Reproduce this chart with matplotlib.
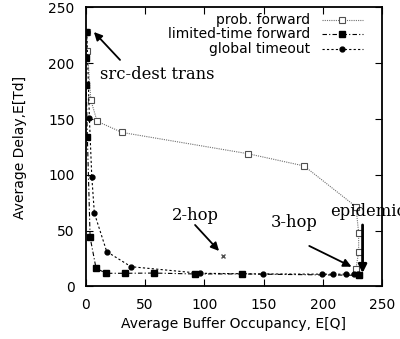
import matplotlib
matplotlib.use('Agg')
import matplotlib.pyplot as plt
from matplotlib.lines import Line2D

plt.rcParams['font.family'] = ['DejaVu Sans']

# prob. forward
pf_x = [1, 1.5, 4.4, 9.7, 30.7, 136.5, 184, 227.7, 230, 230, 227.7, 230]
pf_y = [228, 211, 167, 148, 138, 119, 108, 71.5, 48, 31, 15.7, 10]

# limited-time forward
lt_x = [0, 0, 0.5, 1.5, 3.8, 8.8, 17.3, 33.2, 57.7, 92, 131.5, 230]
lt_y = [228, 205, 180.5, 133.7, 44, 16.3, 11.8, 11.8, 12, 11.2, 11.2, 10]

# global timeout
gt_x = [1, 3.2, 5.2, 7.4, 17.8, 38.3, 96.4, 149.7, 198.8, 208.6, 219, 226, 229.6]
gt_y = [228, 150.7, 98.4, 65.6, 31.2, 17.7, 11.8, 11.2, 11, 11, 11, 11, 11]

# 2-hop point
hop2_x = [116]
hop2_y = [27.6]

fig = plt.figure(figsize=(4.0, 3.39), dpi=100)
ax = fig.add_axes([0.214, 0.155, 0.742, 0.823])

ax.plot(pf_x, pf_y, color='#707070', linestyle=(0, (1, 1)), linewidth=0.8,
        marker='s', markersize=4, markerfacecolor='white', markeredgecolor='#505050',
        markeredgewidth=0.8)
ax.plot(lt_x, lt_y, color='black', linestyle=(0, (4, 2, 1, 2)), linewidth=0.8,
        marker='s', markersize=5, markerfacecolor='black')
ax.plot(gt_x, gt_y, color='black', linestyle=(0, (2, 2)), linewidth=0.8,
        marker='o', markersize=3.5, markerfacecolor='black')
ax.plot(hop2_x, hop2_y, linestyle='none', marker='x', markersize=3.5,
        color='#505050', markeredgewidth=1)

ax.set_xlim(0, 250)
ax.set_ylim(0, 250)
ax.set_xticks([0, 50, 100, 150, 200, 250])
ax.set_yticks([0, 50, 100, 150, 200, 250])
ax.tick_params(direction='in', top=True, right=True, length=5, width=0.8,
               labelsize=10, pad=8)
for s in ax.spines.values():
    s.set_linewidth(1.3)

ax.set_xlabel('Average Buffer Occupancy, E[Q]', fontsize=10, labelpad=4)
ax.set_ylabel('Average Delay,E[Td]', fontsize=10, labelpad=15)

# annotations
serif = dict(family='DejaVu Serif', fontsize=11.8)
arr = dict(arrowstyle='-|>', color='black', lw=1.3, mutation_scale=12,
           shrinkA=0, shrinkB=0)
ax.text(12.2, 189.5, 'src-dest trans', va='center', ha='left', **serif)
ax.annotate('', xy=(7, 228), xytext=(29, 203), arrowprops=arr)
ax.text(72.6, 64, '2-hop', va='center', ha='left', **serif)
ax.annotate('', xy=(112.4, 31.8), xytext=(92.2, 55.1), arrowprops=arr)
ax.text(156, 57, '3-hop', va='center', ha='left', **serif)
ax.annotate('', xy=(224, 17.7), xytext=(188.4, 36.3), arrowprops=arr)
ax.text(205.8, 67, 'epidemic', va='center', ha='left', clip_on=False, **serif)
ax.annotate('', xy=(233.3, 12), xytext=(233.3, 55.1),
            arrowprops=dict(arrowstyle='-|>', color='black', lw=2,
                            mutation_scale=12, shrinkA=0, shrinkB=0))

# legend drawn gnuplot-style (text right aligned, sample on the right)
labels = ['prob. forward', 'limited-time forward', 'global timeout']
styles = [dict(color='#707070', linestyle=(0, (1, 1)), marker='s', markersize=4,
               markerfacecolor='white', markeredgecolor='#505050', markeredgewidth=0.8),
          dict(color='black', linestyle=(0, (4, 2, 1, 2)), marker='s', markersize=5,
               markerfacecolor='black'),
          dict(color='black', linestyle=(0, (2, 2)), marker='o', markersize=3.5,
               markerfacecolor='black')]
rows = [0.955, 0.905, 0.852]
for lab, st, yy in zip(labels, styles, rows):
    ax.text(0.756, yy, lab, transform=ax.transAxes, ha='right', va='center', fontsize=10)
    ln = Line2D([0.795, 0.8645, 0.934], [yy, yy, yy], transform=ax.transAxes,
                linewidth=0.8, markevery=[1], **st)
    ax.add_line(ln)

fig.savefig('out.png', dpi=100)
